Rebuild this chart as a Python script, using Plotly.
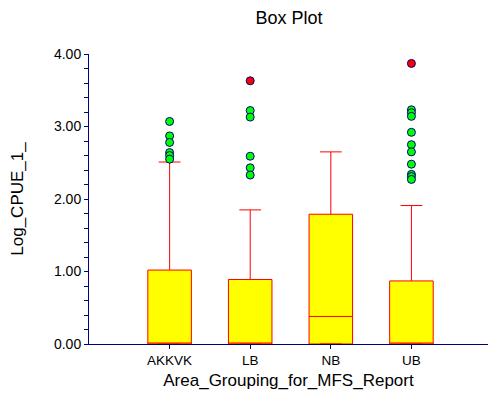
import plotly.graph_objects as go

categories = ["AKKVK", "LB", "NB", "UB"]
q1 = [0.0, 0.0, 0.0, 0.0]
median = [0.0, 0.0, 0.38, 0.0]
q3 = [1.02, 0.89, 1.79, 0.87]
lower = [0.0, 0.0, 0.0, 0.0]
upper = [2.51, 1.85, 2.65, 1.91]

out_cat = (["AKKVK"] * 6) + (["LB"] * 5) + (["UB"] * 10)
out_val = [3.07, 2.87, 2.78, 2.64, 2.60, 2.55,
           3.22, 3.13, 2.59, 2.43, 2.33,
           3.23, 3.19, 3.14, 2.92, 2.75, 2.65, 2.48, 2.34, 2.31, 2.27]
far_cat = ["LB", "UB"]
far_val = [3.63, 3.87]

NAVY = "#000080"
fig = go.Figure()
fig.add_trace(go.Box(
    x=categories, q1=q1, median=median, q3=q3,
    lowerfence=lower, upperfence=upper,
    fillcolor="#FFFF00", line=dict(color="#FF0000", width=1),
    whiskerwidth=0.5, width=0.54, boxpoints=False, showlegend=False,
    hoverinfo="skip"))
fig.add_trace(go.Scatter(
    x=out_cat, y=out_val, mode="markers", showlegend=False,
    marker=dict(color="#00FF00", size=8, line=dict(color=NAVY, width=1))))
fig.add_trace(go.Scatter(
    x=far_cat, y=far_val, mode="markers", showlegend=False,
    marker=dict(color="#FF0000", size=8, line=dict(color=NAVY, width=1))))

font = "Liberation Sans, Arial, sans-serif"
fig.update_layout(
    width=490, height=398,
    margin=dict(l=89, r=2, t=54, b=54),
    paper_bgcolor="white", plot_bgcolor="white",
    font=dict(family=font, color="black", size=13),
    title=dict(text="Box Plot", x=0.59, xanchor="center", y=0.955, yanchor="middle",
               font=dict(size=18, family=font, color="black")),
    xaxis=dict(type="category", categoryorder="array", categoryarray=categories,
               range=[-1, 3.95], showgrid=False, zeroline=False,
               showline=True, linecolor=NAVY, linewidth=1,
               ticks="outside", ticklen=4, tickcolor=NAVY,
               tickfont=dict(size=13.5),
               title=dict(text="Area_Grouping_for_MFS_Report", font=dict(size=17), standoff=6)),
    yaxis=dict(range=[0, 4], showgrid=False, zeroline=False,
               showline=True, linecolor=NAVY, linewidth=1,
               tickvals=[0, 1, 2, 3, 4], tickformat=".2f",
               ticks="outside", ticklen=4, tickcolor=NAVY,
               minor=dict(dtick=0.2, ticks="outside", ticklen=4, tickcolor=NAVY),
               tickfont=dict(size=14),
               title=dict(text="Log_CPUE_1_", font=dict(size=17), standoff=26)),
)
fig.write_html("out.html", config={"displayModeBar": False},
               post_script="document.body.style.margin='0';document.body.style.padding='0';")
